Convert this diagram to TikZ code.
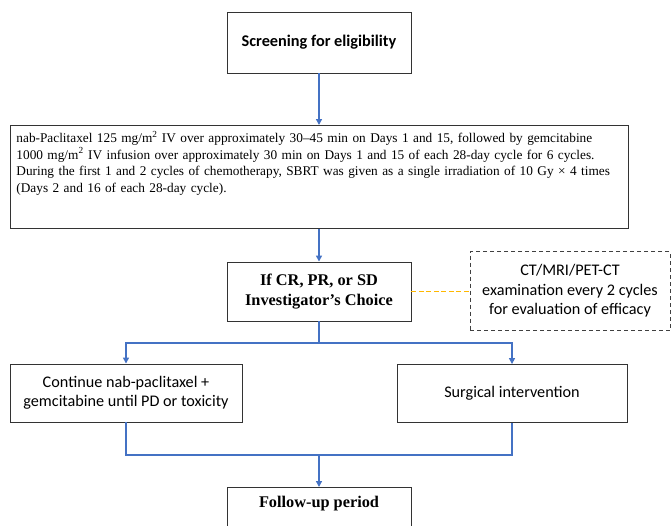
\documentclass[tikz,border=0pt]{standalone}
\usepackage{fontspec}
\setmainfont{Liberation Serif}
\newfontfamily\calibri{Carlito}
\usetikzlibrary{arrows.meta}
\definecolor{flowblue}{HTML}{4472C4}
\definecolor{linkyellow}{RGB}{255,184,0}

\begin{document}
\begin{tikzpicture}[x=1pt,y=-1pt,
    box/.style={draw=black!80,line width=0.9pt,inner sep=0pt,align=center},
    flow/.style={flowblue,line width=1.4pt},
    arr/.style={flow,-{Triangle[width=6pt,length=6pt]}},
    serifbold/.style={font=\bfseries\fontsize{16.3}{20}\selectfont},
    sans/.style={font=\calibri\fontsize{16.2}{19.5}\selectfont}]
  \useasboundingbox (0,0) rectangle (672,525);
  \clip (0,0) rectangle (672,525);
  \node[box,minimum width=184pt,minimum height=61pt,font=\calibri\bfseries\fontsize{16.3}{19}\selectfont] (screen) at (319,42.5) {Screening for eligibility};
  \node[box,anchor=north west,minimum width=618pt,text width=606pt,inner xsep=6pt,inner ysep=6pt,align=left,
        text height=11pt,text depth=80pt,font=\fontsize{13.3}{16.7}\selectfont] (regimen) at (10,125)
    {nab-Paclitaxel 125 mg/m\textsuperscript{2} IV over approximately 30–45 min on Days 1 and 15, followed by gemcitabine\\
     1000 mg/m\textsuperscript{2} IV infusion over approximately 30 min on Days 1 and 15 of each 28-day cycle for 6 cycles.\\
     During the first 1 and 2 cycles of chemotherapy, SBRT was given as a single irradiation of 10 Gy~×~4 times\\
     (Days 2 and 16 of each 28-day cycle).};
  \node[box,serifbold,minimum width=184pt,minimum height=59pt] (choice) at (319,291.5) {If CR, PR, or SD\\Investigator’s Choice};
  \node[box,sans,draw=black!75,dash pattern=on 4pt off 3pt,minimum width=200pt,minimum height=79pt] (exam) at (570,291)
    {CT/MRI/PET-CT\\examination every 2 cycles\\for evaluation of efficacy};
  \node[box,sans,minimum width=232pt,minimum height=58pt] (cont) at (126,393) {Continue nab-paclitaxel +\\gemcitabine until PD or toxicity};
  \node[box,sans,minimum width=230pt,minimum height=58pt] (surg) at (512,393.5) {Surgical intervention};
  \node[box,serifbold,anchor=north,minimum width=184pt,inner ysep=5pt,text height=15pt,text depth=36pt] (follow) at (319,487) {Follow-up period};
  \coordinate (split) at (319,343);
  \coordinate (merge) at (319,455);
  \draw[arr] (screen.south) -- (screen.south |- regimen.north);
  \draw[arr] (regimen.south -| choice.north) -- (choice.north);
  \draw[color=linkyellow,line width=1.6pt,dash pattern=on 5pt off 2.5pt] (choice.east) -- (exam.west |- choice.east);
  \draw[flow] (choice.south) -- (split);
  \draw[arr] (split) -| (cont.north);
  \draw[arr] (split) -| (surg.north);
  \draw[flow] (cont.south) |- (merge) -| (surg.south);
  \draw[arr] (merge) -- (follow.north);
\end{tikzpicture}
\end{document}
